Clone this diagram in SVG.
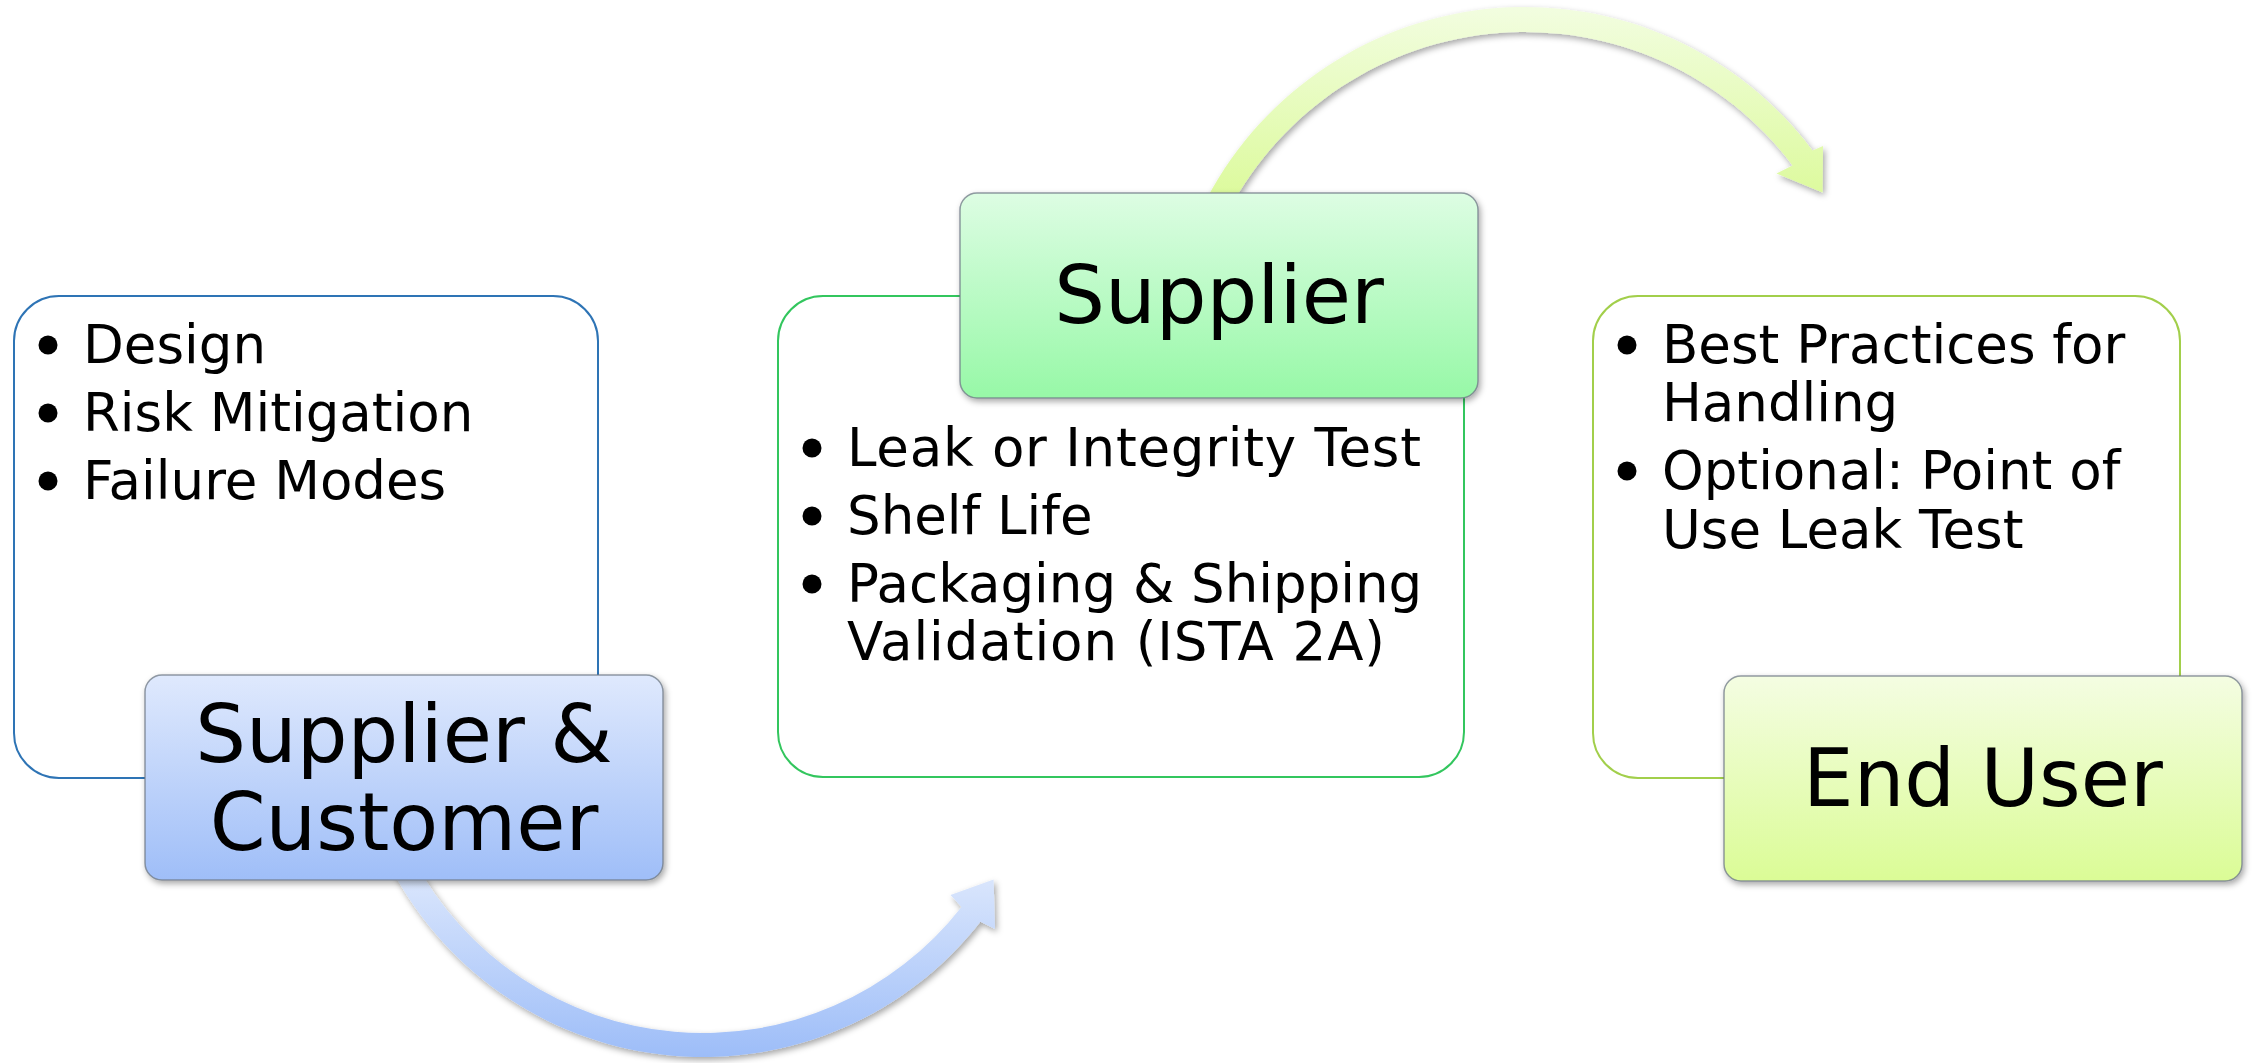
<svg xmlns="http://www.w3.org/2000/svg" width="2252" height="1063" viewBox="0 0 2252 1063">
<style>
.panel{fill:#ffffff;stroke-width:2}
.title{stroke:#6f7a86;stroke-opacity:0.75;stroke-width:1.5}
.tt{font-family:"DejaVu Sans","Verdana",sans-serif;font-size:80px;fill:#000;text-anchor:middle}
.bt{font-family:"DejaVu Sans","Verdana",sans-serif;font-size:53px;fill:#000}
.dot{fill:#000}
</style>
<defs>
<linearGradient id="gBlue" x1="0" y1="0" x2="0" y2="1"><stop offset="0" stop-color="#dfe9fd"/><stop offset="1" stop-color="#9fbef8"/></linearGradient>
<linearGradient id="gGreen" x1="0" y1="0" x2="0" y2="1"><stop offset="0" stop-color="#ddfde3"/><stop offset="1" stop-color="#97f8a7"/></linearGradient>
<linearGradient id="gLime" x1="0" y1="0" x2="0" y2="1"><stop offset="0" stop-color="#f4fde2"/><stop offset="1" stop-color="#dbfc96"/></linearGradient>
<linearGradient id="aBlue" x1="0" y1="0" x2="0" y2="1"><stop offset="0" stop-color="#e0eafd"/><stop offset="1" stop-color="#9dbdf8"/></linearGradient>
<linearGradient id="aLime" x1="0" y1="0" x2="0" y2="1"><stop offset="0" stop-color="#f2fde0"/><stop offset="1" stop-color="#dbfa98"/></linearGradient>
<filter id="sh" x="-10%" y="-10%" width="120%" height="130%"><feDropShadow dx="2" dy="3" stdDeviation="3" flood-color="#000" flood-opacity="0.35"/></filter>
</defs>

<g id="panel-design">
<rect class="panel" x="14" y="296" width="584" height="482" rx="45" stroke="#2e74b5"/>
<circle class="dot" cx="48" cy="345" r="9.5"/>
<circle class="dot" cx="48" cy="413" r="9.5"/>
<circle class="dot" cx="48" cy="481" r="9.5"/>
<text class="bt" x="83" y="363">Design</text>
<text class="bt" x="83" y="431">Risk Mitigation</text>
<text class="bt" x="83" y="499">Failure Modes</text>
</g>

<g id="panel-supplier">
<rect class="panel" x="778" y="296" width="686" height="481" rx="45" stroke="#33c65e"/>
<circle class="dot" cx="812" cy="448" r="9.5"/>
<circle class="dot" cx="812" cy="516" r="9.5"/>
<circle class="dot" cx="812" cy="584" r="9.5"/>
<text class="bt" x="847" y="466" textLength="574" lengthAdjust="spacing">Leak or Integrity Test</text>
<text class="bt" x="847" y="534">Shelf Life</text>
<text class="bt" x="847" y="602">Packaging &amp; Shipping</text>
<text class="bt" x="847" y="660" textLength="538" lengthAdjust="spacing">Validation (ISTA 2A)</text>
</g>

<g id="panel-enduser">
<rect class="panel" x="1593" y="296" width="587" height="482" rx="45" stroke="#a2cf4b"/>
<circle class="dot" cx="1627" cy="345" r="9.5"/>
<circle class="dot" cx="1627" cy="471" r="9.5"/>
<text class="bt" x="1662" y="363">Best Practices for</text>
<text class="bt" x="1662" y="421">Handling</text>
<text class="bt" x="1662" y="489">Optional: Point of</text>
<text class="bt" x="1662" y="548">Use Leak Test</text>
</g>

<g id="connectors">
<path id="arrow-bottom" filter="url(#sh)" fill="url(#aBlue)" d="M 392.2 870.3 A 352 352 0 0 0 980.4 921.7 L 995 929 L 993.6 879.6 L 950.5 895 L 961.5 906.9 A 328 328 0 0 1 413.4 859 Z"/>
<path id="arrow-top" filter="url(#sh)" fill="url(#aLime)" d="M 1207.1 198 A 360 360 0 0 1 1812.5 150.4 L 1823 146 L 1822.6 192.4 L 1776.5 173.5 L 1792.5 165.4 A 335 335 0 0 0 1229.2 209.7 Z"/>
</g>

<g id="node-supplier-customer">
<rect class="title" x="145" y="675" width="518" height="205" rx="17" fill="url(#gBlue)" filter="url(#sh)"/>
<text class="tt" x="404" y="762">Supplier &amp;</text>
<text class="tt" x="404" y="850">Customer</text>
</g>

<g id="node-supplier">
<rect class="title" x="960" y="193" width="518" height="205" rx="17" fill="url(#gGreen)" filter="url(#sh)"/>
<text class="tt" x="1219" y="323">Supplier</text>
</g>

<g id="node-enduser">
<rect class="title" x="1724" y="676" width="518" height="205" rx="17" fill="url(#gLime)" filter="url(#sh)"/>
<text class="tt" x="1983" y="806">End User</text>
</g>
</svg>
